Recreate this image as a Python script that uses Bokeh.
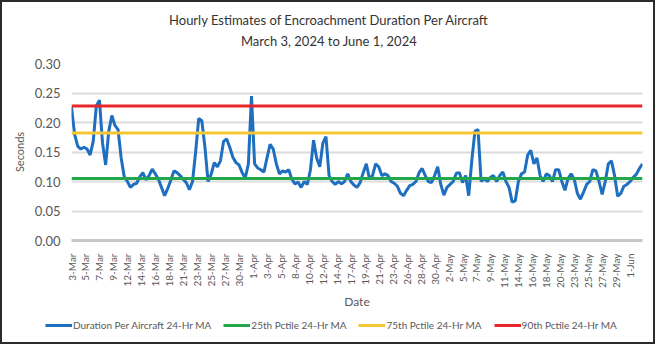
import math
from bokeh.plotting import figure
from bokeh.layouts import column
from bokeh.models import (FixedTicker, Label, Legend, LegendItem,
                          NumeralTickFormatter, Range1d)
from bokeh.embed import file_html
from bokeh.resources import INLINE

# ---- data ----
step_hours = 12  # one reading every 12 hours, starting 3-Mar 00:00
duration_ma = [
    0.226, 0.180, 0.160, 0.155, 0.158, 0.155, 0.145, 0.168, 0.228, 0.238,
    0.165, 0.128, 0.185, 0.212, 0.195, 0.188, 0.140, 0.108, 0.100, 0.090,
    0.095, 0.097, 0.108, 0.115, 0.103, 0.110, 0.121, 0.113, 0.104, 0.090,
    0.076, 0.088, 0.102, 0.118, 0.115, 0.110, 0.104, 0.098, 0.086, 0.100,
    0.150, 0.207, 0.203, 0.158, 0.100, 0.112, 0.132, 0.125, 0.135, 0.168,
    0.172, 0.158, 0.141, 0.132, 0.128, 0.115, 0.106, 0.130, 0.245, 0.130,
    0.123, 0.120, 0.116, 0.140, 0.163, 0.155, 0.130, 0.113, 0.118, 0.116,
    0.120, 0.104, 0.096, 0.099, 0.090, 0.100, 0.095, 0.120, 0.170, 0.140,
    0.125, 0.165, 0.176, 0.110, 0.100, 0.095, 0.100, 0.096, 0.100, 0.113,
    0.100, 0.094, 0.090, 0.098, 0.115, 0.130, 0.105, 0.110, 0.130, 0.125,
    0.110, 0.113, 0.110, 0.100, 0.097, 0.092, 0.080, 0.076, 0.085, 0.093,
    0.095, 0.100, 0.115, 0.122, 0.110, 0.100, 0.098, 0.110, 0.125, 0.095,
    0.077, 0.090, 0.095, 0.100, 0.114, 0.115, 0.098, 0.110, 0.076, 0.136,
    0.185, 0.188, 0.100, 0.105, 0.100, 0.107, 0.110, 0.100, 0.110, 0.116,
    0.100, 0.090, 0.065, 0.067, 0.100, 0.113, 0.116, 0.145, 0.153, 0.130,
    0.140, 0.110, 0.100, 0.113, 0.110, 0.100, 0.120, 0.120, 0.100, 0.085,
    0.105, 0.113, 0.104, 0.080, 0.070, 0.082, 0.095, 0.100, 0.120, 0.118,
    0.100, 0.078, 0.100, 0.130, 0.135, 0.110, 0.075, 0.080, 0.092, 0.095,
    0.100, 0.107, 0.112, 0.122, 0.130,
]
pctile_25 = 0.105
pctile_75 = 0.182
pctile_90 = 0.228

tick_every_hours = 54
tick_labels = [
    "3-Mar", "5-Mar", "7-Mar", "9-Mar", "12-Mar", "14-Mar", "16-Mar", "18-Mar",
    "21-Mar", "23-Mar", "25-Mar", "27-Mar", "30-Mar", "1-Apr", "3-Apr", "5-Apr",
    "8-Apr", "10-Apr", "12-Apr", "14-Apr", "17-Apr", "19-Apr", "21-Apr", "23-Apr",
    "26-Apr", "28-Apr", "30-Apr", "2-May", "5-May", "7-May", "9-May", "11-May",
    "14-May", "16-May", "18-May", "20-May", "23-May", "25-May", "27-May", "29-May",
    "1-Jun",
]
y_ticks = [0.0, 0.05, 0.10, 0.15, 0.20, 0.25, 0.30]

title_1 = "Hourly Estimates of Encroachment Duration Per Aircraft"
title_2 = "March 3, 2024 to June 1, 2024"
legend_labels = ["Duration Per Aircraft 24-Hr MA", "25th Pctile 24-Hr MA",
                 "75th Pctile 24-Hr MA", "90th Pctile 24-Hr MA"]
colors = ["#1F6FC0", "#22A84A", "#F5C533", "#E8262B"]

# ---- derived ----
hours = [i * step_hours for i in range(len(duration_ma))]
tick_pos = [i * tick_every_hours for i in range(len(tick_labels))]
series = [duration_ma, [pctile_25] * len(hours), [pctile_75] * len(hours),
          [pctile_90] * len(hours)]

FONT = "Lato"
GREY = "#595959"
W = 651


def strip(height):
    """A frame-only figure used to hold the title / legend text."""
    f = figure(width=W, height=height, output_backend="svg", toolbar_location=None,
               x_range=Range1d(-2, -1), y_range=Range1d(-2, -1),
               x_axis_location=None, y_axis_location=None,
               min_border_left=0, min_border_right=0, min_border_top=0,
               min_border_bottom=0)
    f.frame_align = False
    f.outline_line_color = None
    f.xgrid.visible = False
    f.ygrid.visible = False
    f.background_fill_color = "white"
    f.border_fill_color = "white"
    return f


# ---- title strip ----
head = strip(51)
for txt, yy in ((title_1, 34), (title_2, 13)):
    head.add_layout(Label(x=W / 2 + 1, y=yy, x_units="screen", y_units="screen",
                          text=txt, text_align="center", text_baseline="middle",
                          text_font=FONT, text_font_size="13px",
                          text_color="#333333"))

# ---- main chart ----
p = figure(width=W, height=261, output_backend="svg", toolbar_location=None,
           x_range=(0, hours[-1]), y_range=(0, 0.30),
           min_border_left=69, min_border_right=11, min_border_top=10,
           min_border_bottom=74)
p.outline_line_color = None
p.background_fill_color = "white"
p.border_fill_color = "white"
p.title = None

renderers = [p.line(hours, s, line_color=c, line_width=3)
             for s, c in zip(series, colors)]

# y axis
p.yaxis.ticker = FixedTicker(ticks=y_ticks)
p.yaxis.formatter = NumeralTickFormatter(format="0.00")
p.yaxis.axis_line_color = None
p.yaxis.major_tick_line_color = None
p.yaxis.minor_tick_line_color = None
p.yaxis.major_label_text_font = FONT
p.yaxis.major_label_text_font_size = "13px"
p.yaxis.major_label_text_color = GREY
p.yaxis.major_label_standoff = 5
p.yaxis.axis_label = "Seconds"
p.yaxis.axis_label_text_font = FONT
p.yaxis.axis_label_text_font_size = "11px"
p.yaxis.axis_label_text_font_style = "normal"
p.yaxis.axis_label_text_color = GREY
p.yaxis.axis_label_standoff = 6

# x axis
p.xaxis.ticker = FixedTicker(ticks=tick_pos)
p.xaxis.major_label_overrides = {pos: lab for pos, lab in zip(tick_pos, tick_labels)}
p.xaxis.major_label_orientation = math.pi / 2
p.xaxis.axis_line_color = "#C8C8C8"
p.xaxis.axis_line_width = 3
p.xaxis.major_tick_line_color = None
p.xaxis.minor_tick_line_color = None
p.xaxis.major_label_text_font = FONT
p.xaxis.major_label_text_font_size = "10px"
p.xaxis.major_label_text_color = GREY
p.xaxis.major_label_standoff = 7
p.xaxis.axis_label = "Date"
p.xaxis.axis_label_text_font = FONT
p.xaxis.axis_label_text_font_size = "12px"
p.xaxis.axis_label_text_font_style = "normal"
p.xaxis.axis_label_text_color = GREY
p.xaxis.axis_label_standoff = 3

# grid
p.xgrid.grid_line_color = None
p.ygrid.ticker = FixedTicker(ticks=y_ticks[1:])
p.ygrid.grid_line_color = "#DCDCDC"
p.ygrid.grid_line_width = 2

# ---- legend strip: renderers reuse the same data but lie outside its view ----
lf = strip(28)
leg_renderers = [lf.line(hours, s, line_color=c, line_width=3)
                 for s, c in zip(series, colors)]
legend = Legend(items=[LegendItem(label=lab, renderers=[r])
                       for lab, r in zip(legend_labels, leg_renderers)],
                orientation="horizontal", location=(43, 10),
                label_text_font=FONT, label_text_font_size="10px",
                label_text_color=GREY, glyph_width=27, glyph_height=14,
                label_height=14, label_standoff=1, spacing=12, padding=0,
                margin=0, border_line_color=None, background_fill_alpha=0)
lf.add_layout(legend, "center")

layout = column(head, p, lf, spacing=0)
layout.styles = {"border": "2px solid #2b2b2b"}

open("out.html", "w").write(file_html(layout, INLINE))
